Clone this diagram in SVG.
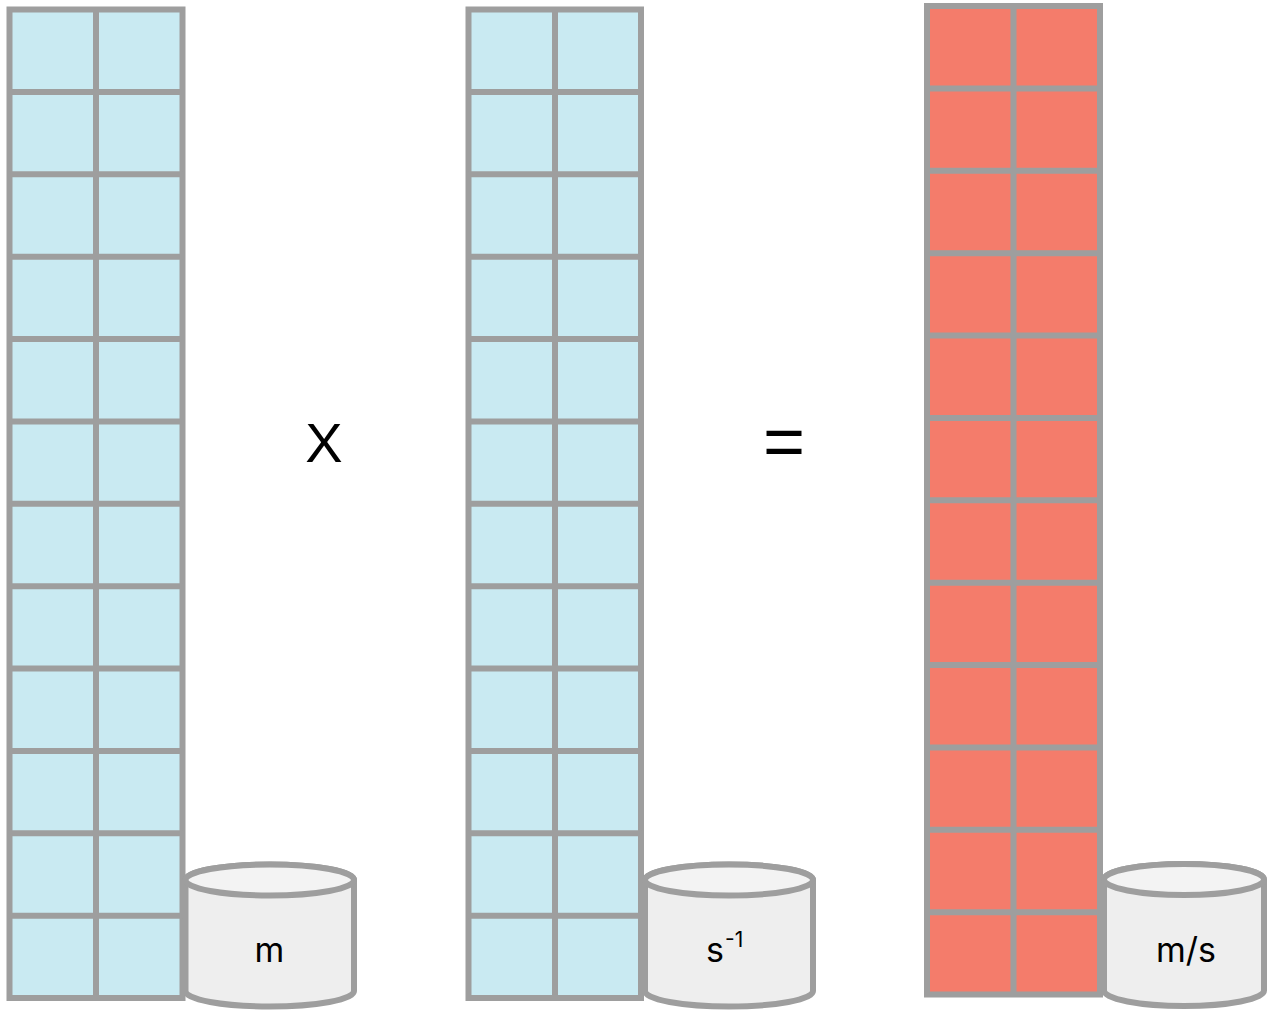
<svg xmlns="http://www.w3.org/2000/svg" width="1267" height="1010" viewBox="0 0 1267 1010">
<style>
.col{stroke:#9E9E9E;stroke-width:6}
.blue{fill:#C9EAF2}
.red{fill:#F47C6B}
.gl{fill:none;stroke:#9E9E9E;stroke-width:6}
.cylb{fill:#EEEEEE;stroke:#9E9E9E;stroke-width:6}
.cylt{fill:#F3F3F3;stroke:#9E9E9E;stroke-width:6}
.lbl{font-family:Inter,"Liberation Sans",sans-serif;font-size:34px;fill:#000}
.op{font-family:"Liberation Sans",Arial,sans-serif;fill:#000}
</style>
<defs>
<path id="gridlines" d="M0 82.375H173M0 164.75H173M0 247.125H173M0 329.5H173M0 411.875H173M0 494.25H173M0 576.625H173M0 659H173M0 741.375H173M0 823.75H173M0 906.125H173M86.5 0V988.5"/>
</defs>
<rect width="1267" height="1010" fill="#FFFFFF"/>
<g id="column-m">
<rect class="col blue" x="9.5" y="9.5" width="173" height="988.5"/>
<use href="#gridlines" class="gl" transform="translate(9.5,9.5)"/>
</g>
<g id="column-s">
<rect class="col blue" x="468.5" y="9.5" width="172.5" height="988.5"/>
<use href="#gridlines" class="gl" transform="translate(468.5,9.5)"/>
</g>
<g id="column-ms">
<rect class="col red" x="927" y="6" width="173" height="988.5"/>
<use href="#gridlines" class="gl" transform="translate(927,6)"/>
</g>
<g id="cyl-m">
<path class="cylb" d="M185.5 880A84.25 15.5 0 0 1 354 880V991A84.25 15.5 0 0 1 185.5 991Z"/>
<ellipse class="cylt" cx="269.75" cy="880" rx="84.25" ry="15.5"/>
<text class="lbl" x="269.5" y="962" text-anchor="middle">m</text>
</g>
<g id="cyl-s">
<path class="cylb" d="M645 880A84 15.5 0 0 1 813 880V991A84 15.5 0 0 1 645 991Z"/>
<ellipse class="cylt" cx="729" cy="880" rx="84" ry="15.5"/>
<text class="lbl" x="706" y="962">s</text>
<text class="lbl" x="725" y="947" style="font-size:21px">-1</text>
</g>
<g id="cyl-ms">
<path class="cylb" d="M1104 879.5A80 15.5 0 0 1 1264 879.5V990.5A80 15.5 0 0 1 1104 990.5Z"/>
<ellipse class="cylt" cx="1184" cy="879.5" rx="80" ry="15.5"/>
<text class="lbl" x="1186" y="962" text-anchor="middle">m/s</text>
</g>
<g id="operators">
<text class="op" x="324" y="462" text-anchor="middle" style="font-size:56px">X</text>
<text class="op" x="784" y="466" text-anchor="middle" style="font-size:72px">=</text>
</g>
</svg>
